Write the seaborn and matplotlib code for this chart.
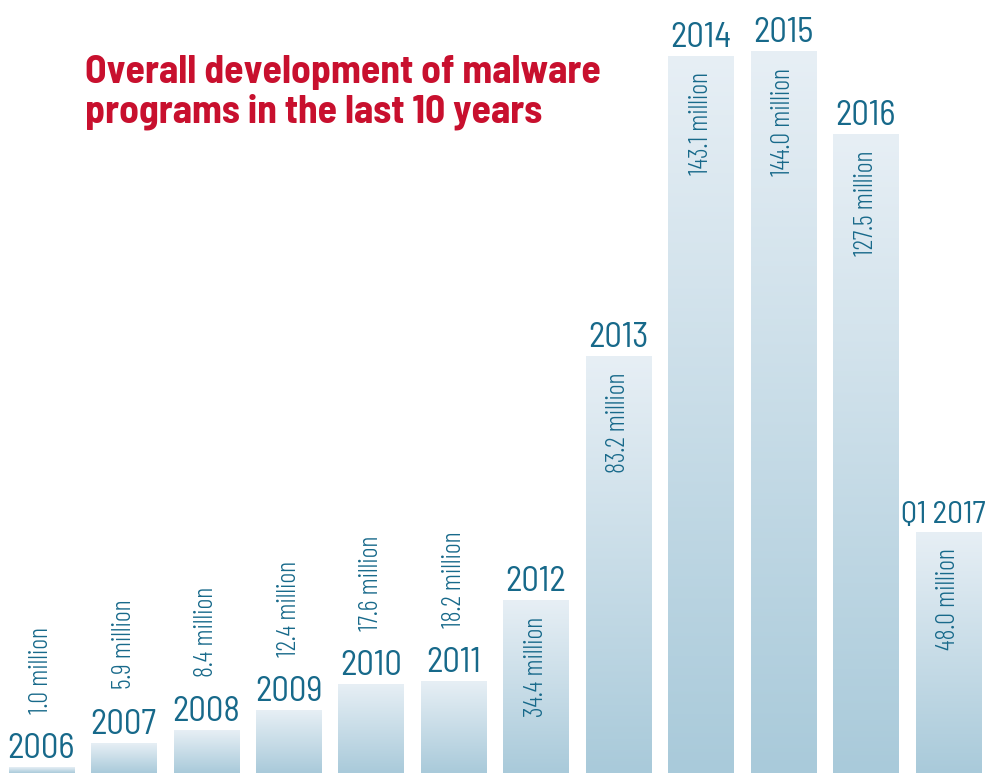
import numpy as np
import pandas as pd
import matplotlib.pyplot as plt
import seaborn as sns
from matplotlib.colors import LinearSegmentedColormap

# Dados do gráfico
anos = ["2006", "2007", "2008", "2009", "2010", "2011",
        "2012", "2013", "2014", "2015", "2016", "Q1 2017"]
valores = [1.0, 5.9, 8.4, 12.4, 17.6, 18.2, 34.4, 83.2, 143.1, 144.0, 127.5, 48.0]
rotulos = [f"{v:.1f} million" for v in valores]
titulo = "Overall development of malware\nprograms in the last 10 years"

df = pd.DataFrame({"ano": anos, "valor": valores})

sns.set_theme(style="white")
plt.rcParams["font.family"] = ["Barlow Condensed", "DejaVu Sans"]

cor_texto = "#17698a"
cor_titulo = "#c8102e"

fig = plt.figure(figsize=(9.87, 7.73), dpi=100)
ax = fig.add_axes([0, 0, 1, 1])
sns.barplot(data=df, x="ano", y="valor", ax=ax, width=0.79, color="#c0d8e4")

# gradiente vertical em cada barra
gradiente = LinearSegmentedColormap.from_list("grad", ["#a9cada", "#e7eff5"])
for barra in ax.patches:
    x0 = barra.get_x()
    w = barra.get_width()
    h = barra.get_height()
    ax.imshow(np.linspace(0, 1, 256).reshape(-1, 1), cmap=gradiente, origin="lower",
              extent=[x0, x0 + w, 0, h], aspect="auto", zorder=2,
              interpolation="bicubic")
    barra.set_visible(False)

ax.set_xlim(-0.5, 11.47)
ax.set_ylim(0, 154.3)
ax.axis("off")

# rótulos dos anos e valores
for i, (ano, v, rot) in enumerate(zip(anos, valores, rotulos)):
    ultimo = i == len(anos) - 1
    ax.text(i - (0.06 if ultimo else 0), v + 1.9, ano,
            ha="center", va="baseline", fontsize=22.5 if ultimo else 25,
            family=["Barlow Semi Condensed", "DejaVu Sans"],
            color=cor_texto, zorder=3)
    if v >= 30:
        ax.text(i, v - 3.2, rot, rotation=90, ha="center", va="top",
                fontsize=19, fontweight=300, color=cor_texto, zorder=3)
    else:
        ax.text(i, v + 10.8, rot, rotation=90, ha="center", va="bottom",
                fontsize=19, fontweight=300, color=cor_texto, zorder=3)

fig.text(85 / 987, 1 - 55 / 773, titulo, ha="left", va="top", fontsize=28.5,
         fontweight="bold", family=["Barlow Semi Condensed", "DejaVu Sans"],
         color=cor_titulo, linespacing=1.12)

fig.savefig("out.png", dpi=100)
